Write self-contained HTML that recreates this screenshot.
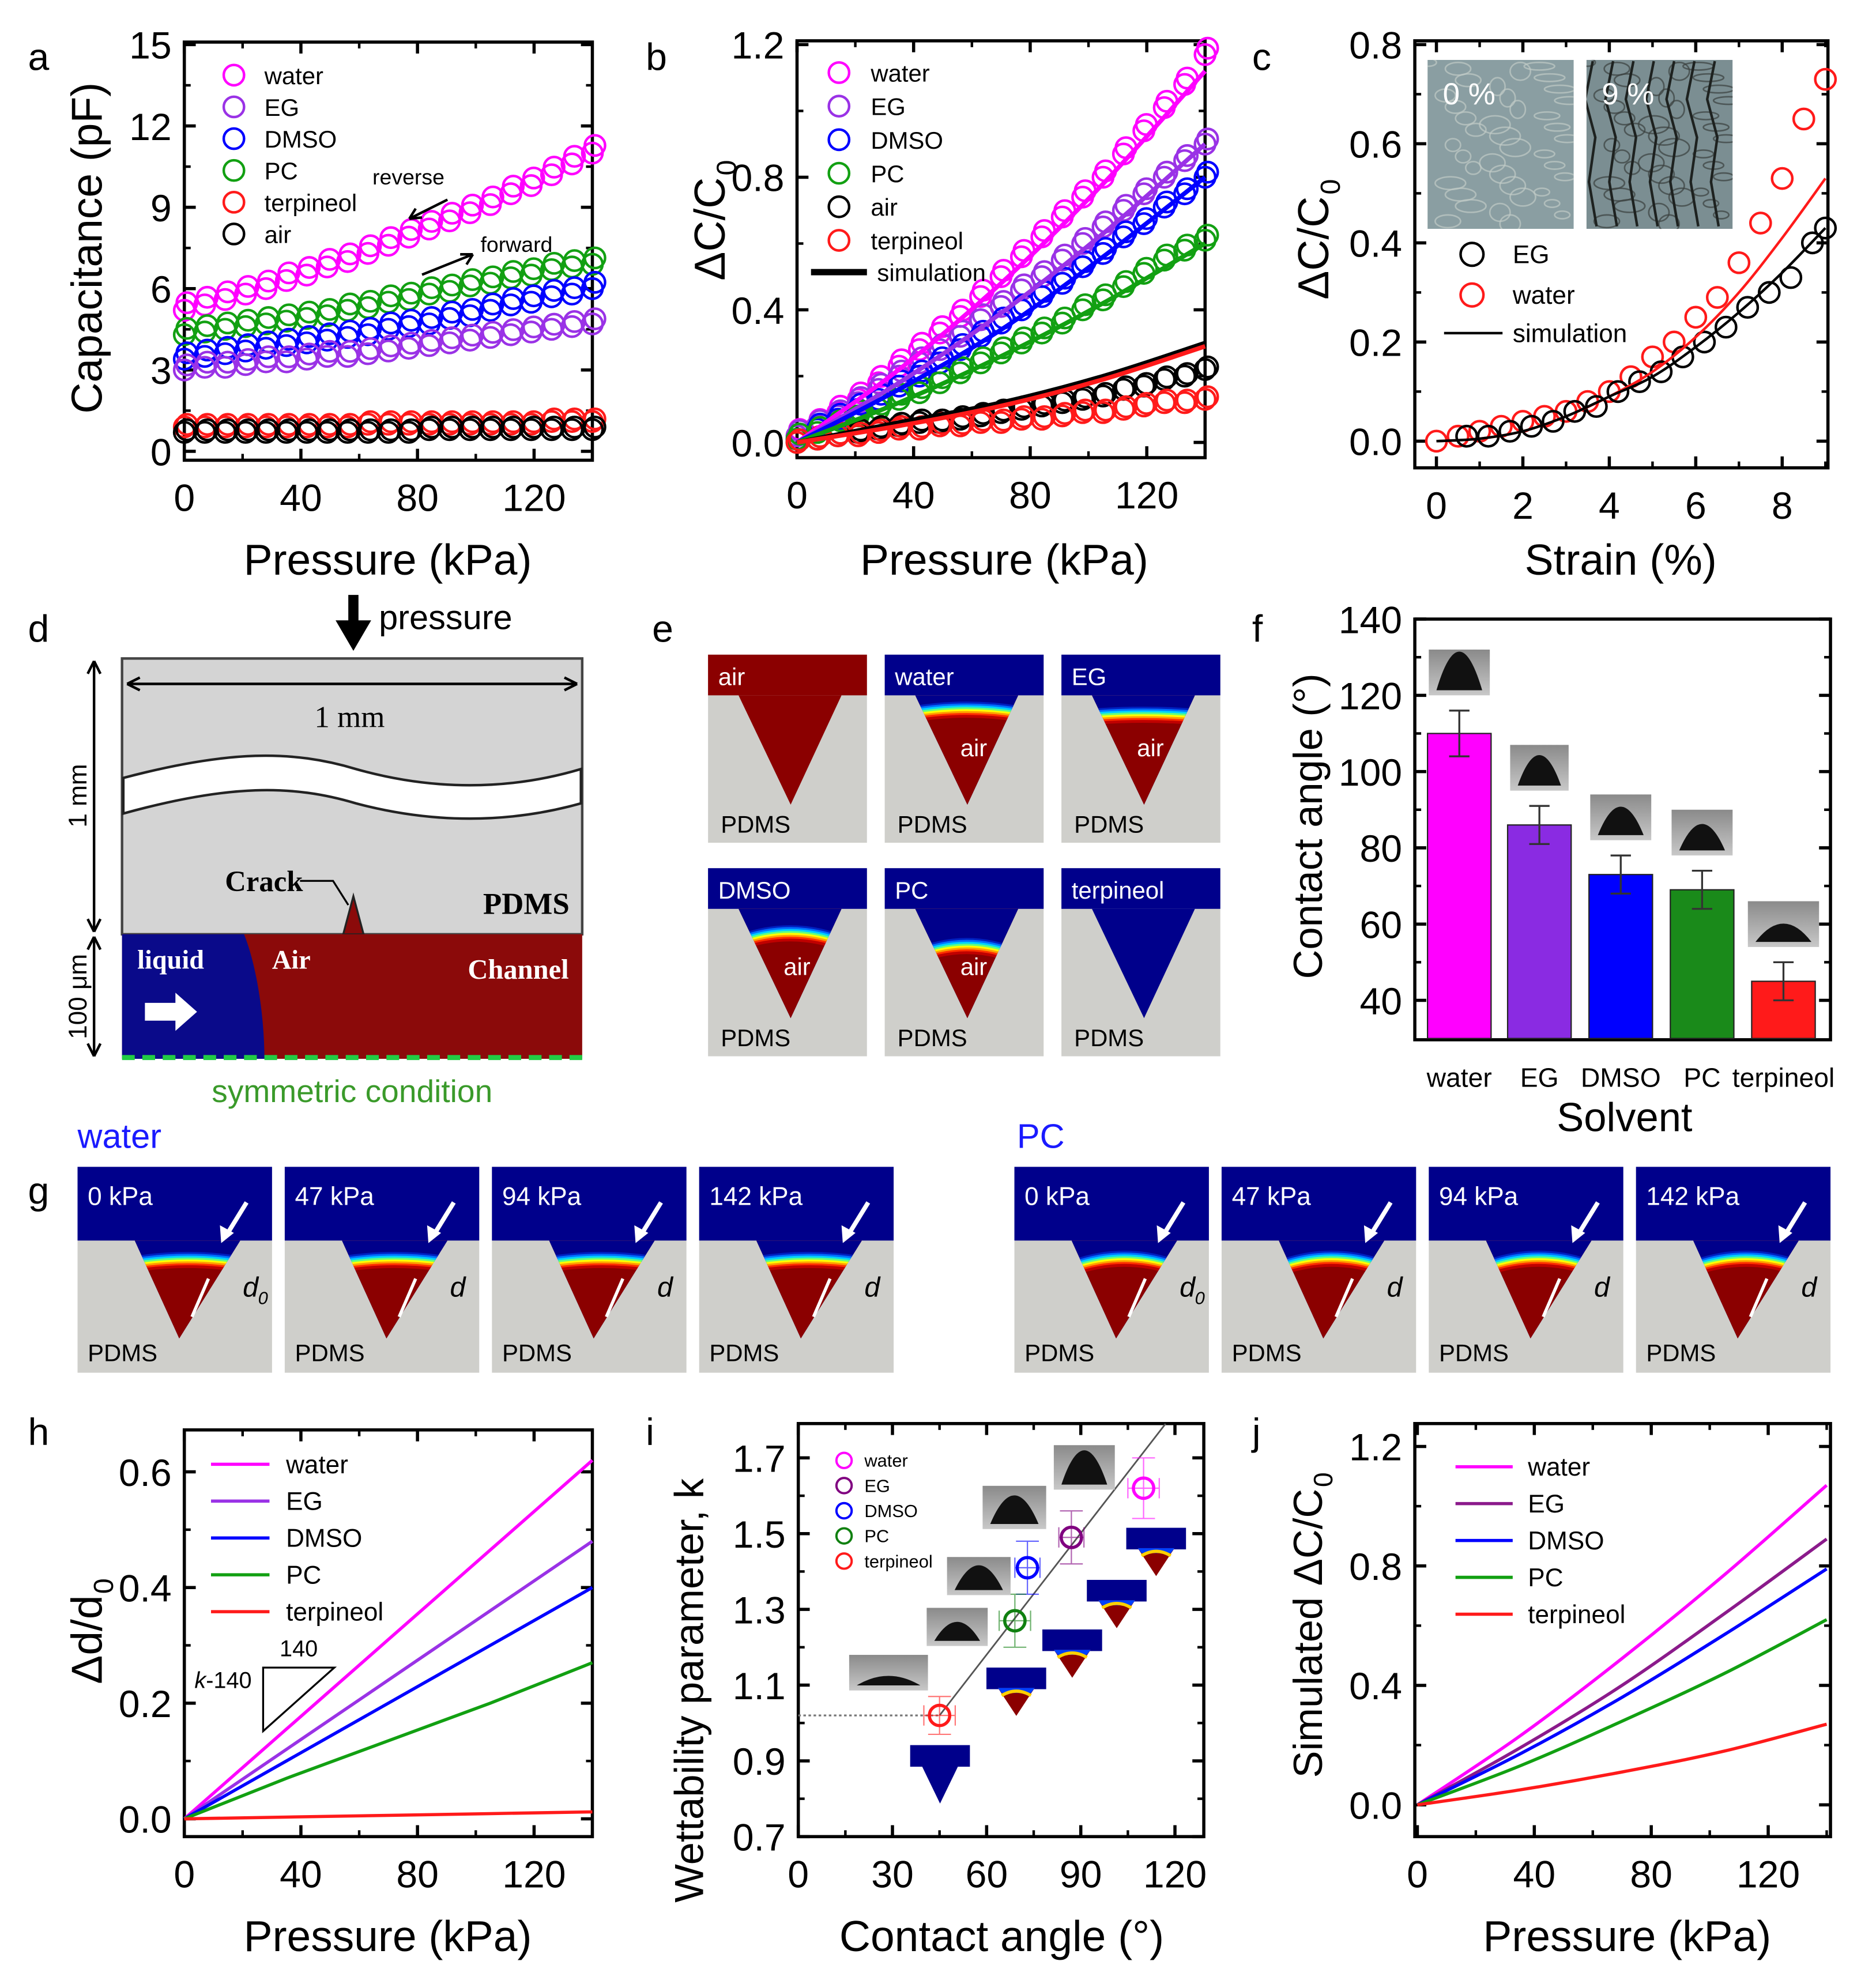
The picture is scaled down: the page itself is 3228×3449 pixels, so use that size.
<!DOCTYPE html>
<html><head><meta charset="utf-8">
<style>
html,body{margin:0;padding:0;background:#fff;}
svg{display:block;font-family:"Liberation Sans",Arial,sans-serif;}
</style></head>
<body>
<svg id="fig" xmlns="http://www.w3.org/2000/svg" width="3228" height="3449" viewBox="0 0 1464 1564">
<defs>
<linearGradient id="dropbg" x1="0" y1="0" x2="0" y2="1"><stop offset="0" stop-color="#8a8a8a"/><stop offset="1" stop-color="#c8c8c8"/></linearGradient>
<clipPath id="mc0"><rect x="1123" y="47" width="115" height="133"/></clipPath>
<clipPath id="mc1"><rect x="1248" y="47" width="115" height="133"/></clipPath>
</defs>
</svg>
<script>
// ---------------- DATA ----------------
const P = [0,7,14,21,28,35,42,49,56,63,70,77,84,91,98,105,112,119,126,133,140];
const aWater = [5.2,5.4,5.6,5.8,6.0,6.3,6.5,6.8,7.0,7.3,7.6,7.9,8.2,8.5,8.8,9.1,9.5,9.8,10.2,10.6,11.0];
const aPC    = [4.3,4.4,4.5,4.6,4.7,4.8,4.9,5.0,5.2,5.3,5.5,5.6,5.8,5.9,6.1,6.2,6.4,6.5,6.7,6.8,6.9];
const aDMSO  = [3.4,3.5,3.6,3.7,3.8,3.9,4.0,4.1,4.2,4.3,4.5,4.6,4.7,4.9,5.0,5.2,5.4,5.5,5.7,5.8,6.0];
const aEG    = [3.0,3.1,3.1,3.2,3.3,3.3,3.4,3.5,3.5,3.6,3.7,3.8,3.9,4.0,4.1,4.2,4.3,4.4,4.5,4.6,4.7];
const aTerp  = [0.9,0.9,0.9,0.9,0.9,0.9,0.9,0.9,0.9,1.0,1.0,1.0,1.0,1.0,1.0,1.0,1.0,1.0,1.1,1.1,1.1];
const aAir   = [0.7,0.7,0.7,0.7,0.7,0.7,0.7,0.7,0.7,0.7,0.7,0.7,0.8,0.8,0.8,0.8,0.8,0.8,0.8,0.8,0.8];
const aTicksX = [0,40,80,120];
const aTicksY = [0,3,6,9,12,15];
const bWater = [0.02,0.05,0.09,0.13,0.18,0.23,0.28,0.33,0.38,0.44,0.50,0.56,0.62,0.68,0.74,0.80,0.87,0.94,1.01,1.08,1.17];
const bEG    = [0.02,0.05,0.08,0.12,0.16,0.20,0.24,0.28,0.32,0.37,0.41,0.46,0.50,0.55,0.60,0.65,0.70,0.75,0.80,0.85,0.90];
const bDMSO  = [0.01,0.04,0.07,0.10,0.13,0.17,0.20,0.24,0.28,0.32,0.36,0.40,0.44,0.48,0.53,0.57,0.62,0.66,0.71,0.75,0.80];
const bPC    = [0.01,0.03,0.05,0.08,0.10,0.13,0.15,0.18,0.21,0.24,0.27,0.30,0.33,0.36,0.40,0.43,0.47,0.51,0.55,0.58,0.61];
const bAir   = [0.00,0.01,0.02,0.03,0.04,0.05,0.06,0.06,0.07,0.08,0.09,0.10,0.11,0.12,0.13,0.14,0.16,0.17,0.19,0.20,0.22];
const bTerp  = [0.00,0.01,0.02,0.02,0.03,0.04,0.04,0.05,0.05,0.06,0.06,0.07,0.07,0.08,0.09,0.09,0.10,0.11,0.12,0.12,0.13];
const SP = [0,35,70,105,140];
const bSimWater = [0,0.22,0.48,0.78,1.12];
const bSimEG    = [0,0.18,0.39,0.63,0.90];
const bSimDMSO  = [0,0.16,0.34,0.56,0.80];
const bSimPC    = [0,0.12,0.26,0.42,0.60];
const bSimAir   = [0,0.06,0.12,0.20,0.30];
const bSimTerp  = [0,0.05,0.11,0.19,0.29];
const bTicksY = [0,0.4,0.8,1.2];
const cStrainW = [0,0.5,1,1.5,2,2.5,3,3.5,4,4.5,5,5.5,6,6.5,7,7.5,8,8.5,9];
const cWater   = [0.0,0.01,0.02,0.03,0.04,0.05,0.06,0.08,0.10,0.13,0.17,0.20,0.25,0.29,0.36,0.44,0.53,0.65,0.73];
const cStrainE = [0.7,1.2,1.7,2.2,2.7,3.2,3.7,4.2,4.7,5.2,5.7,6.2,6.7,7.2,7.7,8.2,8.7,9];
const cEG      = [0.01,0.01,0.02,0.03,0.04,0.06,0.07,0.10,0.12,0.14,0.17,0.20,0.23,0.27,0.30,0.33,0.40,0.43];
const cSimX    = [0,1,2,3,4,5,6,7,8,9];
const cSimW    = [0,0.005,0.02,0.05,0.09,0.14,0.21,0.30,0.41,0.53];
const cSimE    = [0,0.005,0.02,0.05,0.09,0.13,0.19,0.26,0.34,0.43];
const cTicksX = [0,2,4,6,8];
const cTicksY = [0,0.2,0.4,0.6,0.8];
const fCats = ["water","EG","DMSO","PC","terpineol"];
const fVals = [110,86,73,69,45];
const fErr  = [6,5,5,5,5];
const fTicksY = [40,60,80,100,120,140];
const hWater=[0,0.155,0.31,0.465,0.62];
const hEG=[0,0.12,0.24,0.36,0.48];
const hDMSO=[0,0.10,0.20,0.30,0.40];
const hPC=[0,0.07,0.135,0.20,0.27];
const hTerp=[0,0.003,0.006,0.009,0.012];
const hTicksY=[0,0.2,0.4,0.6];
const iAngles=[110,87,73,69,45];
const iK=[1.62,1.49,1.41,1.27,1.02];
const iAngErr=[5,4,4,5,5];
const iKErr=[0.08,0.07,0.07,0.07,0.05];
const iTicksX=[0,30,60,90,120];
const iTicksY=[0.7,0.9,1.1,1.3,1.5,1.7];
const jWater=[0,0.23,0.49,0.77,1.07];
const jEG=[0,0.19,0.40,0.64,0.89];
const jDMSO=[0,0.17,0.36,0.57,0.79];
const jPC=[0,0.13,0.28,0.44,0.62];
const jTerp=[0,0.05,0.11,0.18,0.27];
const jTicksY=[0,0.4,0.8,1.2];

// ---------------- HELPERS ----------------
const NS="http://www.w3.org/2000/svg";
const svg=document.getElementById('fig');
function E(tag,attrs,name,parent){
  const el=document.createElementNS(NS,tag);
  for(const k in attrs) el.setAttribute(k,attrs[k]);
  
  
  (parent||svg).appendChild(el);
  return el;
}
function T(x,y,s,size,name,o){
  o=o||{};
  const a={x:x,y:y,'font-size':size,fill:o.fill||'#000'};
  if(o.anchor)a['text-anchor']=o.anchor;
  if(o.weight)a['font-weight']=o.weight;
  if(o.style)a['font-style']=o.style;
  if(o.family)a['font-family']=o.family;
  if(o.rot!==undefined)a.transform='rotate('+o.rot+' '+x+' '+y+')';
  const el=E('text',a,name,o.parent);
  el.textContent=s;
  return el;
}
function lin(d0,d1,r0,r1){return v=>r0+(v-d0)*(r1-r0)/(d1-d0);}
function frame(x0,y0,x1,y1,name,xt,yt,sx,sy,xl,yl,minorX,minorY){
  const g=E('g',{},name);
  E('rect',{x:x0,y:y0,width:x1-x0,height:y1-y0,fill:'none',stroke:'#000','stroke-width':2.5},name+'-frame',g);
  xt.forEach((v,i)=>{const x=sx(v);
    E('line',{x1:x,x2:x,y1:y1,y2:y1-9,stroke:'#000','stroke-width':2.5},name+'-xtick',g);
    E('line',{x1:x,x2:x,y1:y0,y2:y0+9,stroke:'#000','stroke-width':2.5},name+'-xtick-top',g);
    if(xl)T(x,y1+40,xl[i],30,name+'-xtick-label',{anchor:'middle',parent:g});
  });
  (minorX||[]).forEach(v=>{const x=sx(v);
    E('line',{x1:x,x2:x,y1:y1,y2:y1-5,stroke:'#000','stroke-width':2},name+'-xminor',g);
    E('line',{x1:x,x2:x,y1:y0,y2:y0+5,stroke:'#000','stroke-width':2},name+'-xminor-top',g);});
  yt.forEach((v,i)=>{const y=sy(v);
    E('line',{x1:x0,x2:x0+9,y1:y,y2:y,stroke:'#000','stroke-width':2.5},name+'-ytick',g);
    E('line',{x1:x1,x2:x1-9,y1:y,y2:y,stroke:'#000','stroke-width':2.5},name+'-ytick-right',g);
    if(yl)T(x0-10,y+11,yl[i],30,name+'-ytick-label',{anchor:'end',parent:g});
  });
  (minorY||[]).forEach(v=>{const y=sy(v);
    E('line',{x1:x0,x2:x0+5,y1:y,y2:y,stroke:'#000','stroke-width':2},name+'-yminor',g);
    E('line',{x1:x1,x2:x1-5,y1:y,y2:y,stroke:'#000','stroke-width':2},name+'-yminor-right',g);});
  return g;
}
function circles(xs,ys,sx,sy,color,r,name,dbl){
  xs.forEach((v,i)=>{
    E('circle',{cx:sx(v),cy:sy(ys[i]),r:r,fill:'none',stroke:color,'stroke-width':2},name);
    if(dbl) E('circle',{cx:sx(v)+2,cy:sy(ys[i])-dbl,r:r,fill:'none',stroke:color,'stroke-width':2},name+'-reverse');
  });
}
function line(xs,ys,sx,sy,color,w,name,smooth){
  let d='';
  const pts=xs.map((v,i)=>[sx(v),sy(ys[i])]);
  if(smooth){
    d='M'+pts[0][0]+','+pts[0][1];
    for(let i=0;i<pts.length-1;i++){
      const p0=pts[Math.max(0,i-1)],p1=pts[i],p2=pts[i+1],p3=pts[Math.min(pts.length-1,i+2)];
      const c1=[p1[0]+(p2[0]-p0[0])/6,p1[1]+(p2[1]-p0[1])/6];
      const c2=[p2[0]-(p3[0]-p1[0])/6,p2[1]-(p3[1]-p1[1])/6];
      d+=' C'+c1+' '+c2+' '+p2;
    }
  } else d='M'+pts.map(p=>p.join(',')).join(' L');
  return E('path',{d:d,fill:'none',stroke:color,'stroke-width':w},name);
}
function fmt(v,d){return v.toFixed(d);}
const C={water:'#ff00ff',EG:'#9a32e6',DMSO:'#0000ff',PC:'#12a012',terp:'#ff1a1a',air:'#000'};

[['a',22,55],['b',508,55],['c',985,55],['d',22,505],['e',513,505],['f',985,505],['g',22,947],['h',22,1137],['i',508,1137],['j',985,1137]]
.forEach(p=>T(p[1],p[2],p[0],30,'panel-label-'+p[0]));

// ---------------- PANEL A ----------------
{
 const sx=lin(0,140,145,466), sy=lin(0,15,355,35);
 frame(145,33,466,362,'panel-a-axes',aTicksX,aTicksY,sx,sy,aTicksX.map(String),aTicksY.map(String),[20,60,100,140],[1.5,4.5,7.5,10.5,13.5]);
 T(80,195,'Capacitance (pF)',34,'panel-a-y-title',{anchor:'middle',rot:-90});
 T(305,452,'Pressure (kPa)',34,'panel-a-x-title',{anchor:'middle'});
 circles(P,aWater,sx,sy,C.water,8,'panel-a-water-point',6);
 circles(P,aPC,sx,sy,C.PC,8,'panel-a-pc-point',5);
 circles(P,aDMSO,sx,sy,C.DMSO,8,'panel-a-dmso-point',5);
 circles(P,aEG,sx,sy,C.EG,8,'panel-a-eg-point',4);
 circles(P,aTerp,sx,sy,C.terp,8,'panel-a-terpineol-point',2);
 circles(P,aAir,sx,sy,C.air,8,'panel-a-air-point',2);
 const leg=[['water',C.water],['EG',C.EG],['DMSO',C.DMSO],['PC',C.PC],['terpineol',C.terp],['air',C.air]];
 leg.forEach((l,i)=>{const y=59+i*25;
  E('circle',{cx:184,cy:y,r:8,fill:'none',stroke:l[1],'stroke-width':2},'panel-a-legend-marker');
  T(208,y+7,l[0],19,'panel-a-legend-label');});
 T(293,145,'reverse',17,'panel-a-reverse-label');
 E('path',{d:'M352,157 L322,172 M322,172 l10,-1 M322,172 l5,-8',stroke:'#000','stroke-width':2,fill:'none'},'panel-a-reverse-arrow');
 T(378,198,'forward',17,'panel-a-forward-label');
 E('path',{d:'M332,216 L372,200 M372,200 l-10,0 M372,200 l-5,8',stroke:'#000','stroke-width':2,fill:'none'},'panel-a-forward-arrow');
}
// ---------------- PANEL B ----------------
{
 const sx=lin(0,140,627,948), sy=lin(0,1.2,348,35);
 frame(627,32,948,360,'panel-b-axes',aTicksX,bTicksY,sx,sy,aTicksX.map(String),bTicksY.map(v=>fmt(v,1)),[20,60,100,140],[0.2,0.6,1.0]);
 T(570,180,'ΔC/C',34,'panel-b-y-title',{anchor:'middle',rot:-90});
 T(579,138,'0',22,'panel-b-y-title-sub',{rot:-90});
 T(790,452,'Pressure (kPa)',34,'panel-b-x-title',{anchor:'middle'});
 circles(P,bWater,sx,sy,C.water,8,'panel-b-water-point',5);
 circles(P,bEG,sx,sy,C.EG,8,'panel-b-eg-point',4);
 circles(P,bDMSO,sx,sy,C.DMSO,8,'panel-b-dmso-point',4);
 circles(P,bPC,sx,sy,C.PC,8,'panel-b-pc-point',4);
 circles(P,bAir,sx,sy,C.air,8,'panel-b-air-point',2);
 circles(P,bTerp,sx,sy,C.terp,8,'panel-b-terpineol-point',2);
 line(SP,bSimWater,sx,sy,C.water,3.5,'panel-b-water-sim',true);
 line(SP,bSimEG,sx,sy,C.EG,3.5,'panel-b-eg-sim',true);
 line(SP,bSimDMSO,sx,sy,C.DMSO,3.5,'panel-b-dmso-sim',true);
 line(SP,bSimPC,sx,sy,C.PC,3.5,'panel-b-pc-sim',true);
 line(SP,bSimAir,sx,sy,'#000',3.5,'panel-b-air-sim',true);
 line(SP,bSimTerp,sx,sy,C.terp,3.5,'panel-b-terpineol-sim',true);
 const leg=[['water',C.water],['EG',C.EG],['DMSO',C.DMSO],['PC',C.PC],['air',C.air],['terpineol',C.terp]];
 leg.forEach((l,i)=>{const y=57+i*26.4;
  E('circle',{cx:660,cy:y,r:8,fill:'none',stroke:l[1],'stroke-width':2},'panel-b-legend-marker');
  T(685,y+7,l[0],19,'panel-b-legend-label');});
 E('line',{x1:638,x2:682,y1:214,y2:214,stroke:'#000','stroke-width':5},'panel-b-legend-sim-line');
 T(690,221,'simulation',19,'panel-b-legend-sim-label');
}
// ---------------- PANEL C ----------------
{
 const sx=lin(0,9,1130,1436), sy=lin(0,0.8,347,35);
 frame(1113,32,1438,368,'panel-c-axes',cTicksX,cTicksY,sx,sy,cTicksX.map(String),cTicksY.map(v=>fmt(v,1)),[1,3,5,7,9],[0.1,0.3,0.5,0.7]);
 T(1045,195,'ΔC/C',34,'panel-c-y-title',{anchor:'middle',rot:-90});
 T(1054,153,'0',22,'panel-c-y-title-sub',{rot:-90});
 T(1275,452,'Strain (%)',34,'panel-c-x-title',{anchor:'middle'});
 circles(cStrainW,cWater,sx,sy,C.terp,8,'panel-c-water-point');
 circles(cStrainE,cEG,sx,sy,'#000',8,'panel-c-eg-point');
 line(cSimX,cSimW,sx,sy,C.terp,2,'panel-c-water-sim',true);
 line(cSimX,cSimE,sx,sy,'#000',2,'panel-c-eg-sim',true);
 [[1123,'0 %'],[1248,'9 %']].forEach((p,k)=>{
  const g=E('g',{'clip-path':'url(#mc'+k+')'},'panel-c-micrograph-'+(k?'9':'0'));
  E('rect',{x:p[0],y:47,width:115,height:133,fill:k?'#7b8e92':'#8a9ea2'},'micrograph-bg',g);
  for(let j=0;j<40;j++){
    const cx=p[0]+((j*37)%113)+1, cy=49+((j*53)%129);
    E('ellipse',{cx:cx,cy:cy,rx:6+(j%4)*2,ry:3+(j%3)*2,fill:'none',stroke:k?'#3a403e':'#c0cac6','stroke-width':1.2,opacity:0.7},'micrograph-texture',g);
  }
  if(k){for(let j=0;j<7;j++){E('path',{d:'M'+(p[0]+5+j*16)+',48 l-6,30 l8,30 l-5,35 l6,35',stroke:'#1e2220','stroke-width':2,fill:'none'},'micrograph-crack',g);}}
  T(p[0]+12,82,p[1],24,'micrograph-label',{fill:'#fff',parent:g});
 });
 E('circle',{cx:1158,cy:200,r:9,fill:'none',stroke:'#000','stroke-width':2},'panel-c-legend-eg-marker');
 T(1190,207,'EG',20,'panel-c-legend-eg-label');
 E('circle',{cx:1158,cy:232,r:9,fill:'none',stroke:C.terp,'stroke-width':2},'panel-c-legend-water-marker');
 T(1190,239,'water',20,'panel-c-legend-water-label');
 E('line',{x1:1136,x2:1182,y1:262,y2:262,stroke:'#000','stroke-width':2},'panel-c-legend-sim-line');
 T(1190,269,'simulation',20,'panel-c-legend-sim-label');
}
// ---------------- PANEL D ----------------
{
 const g=E('g',{},'panel-d-schematic');
 E('path',{d:'M278,468 L278,492',stroke:'#000','stroke-width':8},'pressure-arrow-shaft',g);
 E('polygon',{points:'264,488 292,488 278,512'},'pressure-arrow-head',g);
 T(298,495,'pressure',27,'pressure-label',{parent:g});
 E('rect',{x:96,y:518,width:362,height:217,fill:'#d4d4d4',stroke:'#444','stroke-width':2},'pdms-layer',g);
 E('path',{d:'M97,612 C180,590 230,590 280,605 C340,622 400,622 457,605 L457,632 C400,648 340,648 280,632 C230,617 180,617 97,640 Z',fill:'#fff',stroke:'#222','stroke-width':2},'wavy-gap',g);
 E('path',{d:'M100,538 L454,538 M100,538 l10,-5 M100,538 l10,5 M454,538 l-10,-5 M454,538 l-10,5',stroke:'#000','stroke-width':2,fill:'none'},'width-arrow',g);
 T(275,572,'1 mm',24,'width-label',{anchor:'middle',family:'"Liberation Serif",serif',parent:g});
 E('polygon',{points:'270,735 278,705 286,735',fill:'#8b0a0a',stroke:'#222','stroke-width':1.5},'crack',g);
 T(177,701,'Crack',23,'crack-label',{weight:'bold',family:'"Liberation Serif",serif',parent:g});
 E('path',{d:'M236,693 L262,693 L274,712',stroke:'#000','stroke-width':1.5,fill:'none'},'crack-pointer',g);
 T(380,719,'PDMS',24,'pdms-label',{weight:'bold',family:'"Liberation Serif",serif',parent:g});
 E('rect',{x:96,y:735,width:362,height:98,fill:'#8b0a0a'},'channel',g);
 E('path',{d:'M96,735 L192,735 C202,760 208,800 208,833 L96,833 Z',fill:'#0a0a8a'},'liquid',g);
 T(108,762,'liquid',21,'liquid-label',{fill:'#fff',weight:'bold',family:'"Liberation Serif",serif',parent:g});
 T(214,762,'Air',21,'air-label',{fill:'#fff',weight:'bold',family:'"Liberation Serif",serif',parent:g});
 T(368,770,'Channel',22,'channel-label',{fill:'#fff',weight:'bold',family:'"Liberation Serif",serif',parent:g});
 E('polygon',{points:'114,789 138,789 138,781 155,796 138,811 138,803 114,803',fill:'#fff'},'flow-arrow',g);
 E('line',{x1:96,x2:458,y1:832,y2:832,stroke:'#22cc44','stroke-width':4,'stroke-dasharray':'10,6'},'symmetry-line',g);
 T(277,867,'symmetric condition',25,'symmetric-condition-label',{anchor:'middle',fill:'#3a9a2a',parent:g});
 E('path',{d:'M74,520 L74,733 M74,520 l-5,10 M74,520 l5,10 M74,733 l-5,-10 M74,733 l5,-10 M74,737 L74,831 M74,737 l-5,10 M74,737 l5,10 M74,831 l-5,-10 M74,831 l5,-10',stroke:'#000','stroke-width':2,fill:'none'},'height-arrows',g);
 T(68,626,'1 mm',20,'height-label',{anchor:'middle',rot:-90,parent:g});
 T(68,784,'100 μm',20,'channel-height-label',{anchor:'middle',rot:-90,parent:g});
}
// ---------------- CELLS (e, g) ----------------
let clipId=0;
function cell(x,y,w,h,bandH,vl,vr,apx,apy,mode,apex,sag,name){
  const g=E('g',{},name);
  E('rect',{x:x,y:y,width:w,height:h,fill:'#cfcfcb'},name+'-pdms',g);
  const top=mode==='air'?'#8b0000':'#00008b';
  E('rect',{x:x,y:y,width:w,height:bandH,fill:top},name+'-top',g);
  const vpts=vl+','+(y+bandH)+' '+vr+','+(y+bandH)+' '+apx+','+apy;
  const fillV=(mode==='blue')?'#00008b':'#8b0000';
  E('polygon',{points:vpts,fill:fillV},name+'-groove',g);
  if(mode==='men'){
    const id='cp'+(clipId++);
    const cp=E('clipPath',{id:id},name+'-clip',g);
    E('polygon',{points:vpts},name+'-clip-shape',cp);
    const gg=E('g',{'clip-path':'url(#'+id+')'},name+'-meniscus',g);
    const mid=(vl+vr)/2, L=vl-15, R=vr+15;
    E('rect',{x:vl,y:y+bandH-1,width:vr-vl,height:apy-y,fill:'#00008b'},name+'-liquid-fill',gg);
    const arc=(o)=>'M'+L+','+(apex+2*sag+o)+' Q'+mid+','+(apex-2*sag+o)+' '+R+','+(apex+2*sag+o);
    E('path',{d:arc(11)+' L'+R+','+(apy+5)+' L'+L+','+(apy+5)+' Z',fill:'#8b0000'},name+'-air',gg);
    const cols=['#0020c0','#0070ff','#00d0ff','#60ff80','#ffff00','#ffa000','#ff3000','#c00000'];
    cols.forEach((c,i)=>{E('path',{d:arc(1+i*1.5),stroke:c,'stroke-width':2.2,fill:'none'},name+'-rainbow',gg);});
  }
  return g;
}
{
 const xs=[557,696,835], ys=[515,683];
 const info=[['air','air',0,0],['water','men',552,3],['EG','men',556,1.5],['DMSO','men',728,7],['PC','men',738,8],['terpineol','blue',0,0]];
 info.forEach((d,i)=>{
  const x=xs[i%3], y=ys[Math.floor(i/3)];
  const g=cell(x,y,125,148,32,x+24,x+105,x+65,y+118,d[1],d[2],d[3],'panel-e-cell-'+d[0].toLowerCase());
  T(x+8,y+24,d[0],19,'panel-e-cell-title',{fill:'#fff',parent:g});
  T(x+10,y+140,'PDMS',19,'panel-e-pdms-label',{parent:g});
  if(d[1]==='men') T(x+70,y+(i<3?80:84),'air',19,'panel-e-air-label',{fill:'#fff',anchor:'middle',parent:g});
 });
}
{
 T(61,903,'water',27,'panel-g-water-title',{fill:'#1a1aff'});
 T(800,903,'PC',27,'panel-g-pc-title',{fill:'#1a1aff'});
 const xs=[61,224,387,550,798,961,1124,1287];
 const lab=['0 kPa','47 kPa','94 kPa','142 kPa','0 kPa','47 kPa','94 kPa','142 kPa'];
 xs.forEach((x,i)=>{
  const pc=i>=4, y=918;
  const g=cell(x,y,153,162,58,x+45,x+128,x+80,y+135,'men',pc?984:985,pc?7:3,'panel-g-cell-'+i);
  T(x+8,y+30,lab[i],20,'panel-g-pressure-label',{fill:'#fff',parent:g});
  T(x+8,y+153,'PDMS',19,'panel-g-pdms-label',{parent:g});
  T(x+130,y+102,'d',22,'panel-g-distance-label',{style:'italic',parent:g});
  if(i%4===0) T(x+142,y+108,'0',14,'panel-g-distance-sub',{style:'italic',parent:g});
  E('path',{d:'M'+(x+133)+','+(y+28)+' L'+(x+117)+','+(y+54),stroke:'#fff','stroke-width':3.5},'panel-g-arrow',g);
  E('polygon',{points:(x+113)+','+(y+60)+' '+(x+112)+','+(y+46)+' '+(x+123)+','+(y+52),fill:'#fff'},'panel-g-arrow-head',g);
  E('line',{x1:x+90,y1:y+118,x2:x+103,y2:y+88,stroke:'#fff','stroke-width':2.5},'panel-g-d-arrow',g);
 });
}
// ---------------- PANEL F ----------------
{
 const sy=lin(30,140,817,487);
 const bx=[1123,1186,1250,1314,1378], bw=50;
 const cols=[C.water,'#8a2be2',C.DMSO,'#1a8a1a',C.terp];
 frame(1113,487,1440,818,'panel-f-axes',[],fTicksY,null,sy,null,fTicksY.map(String),null,[50,70,90,110,130]);
 fVals.forEach((v,i)=>{
  E('rect',{x:bx[i],y:sy(v),width:bw,height:817-sy(v),fill:cols[i],stroke:'#222','stroke-width':1},'panel-f-bar-'+fCats[i]);
  const cx=bx[i]+bw/2;
  E('path',{d:'M'+cx+','+sy(v+fErr[i])+' L'+cx+','+sy(v-fErr[i])+' M'+(cx-8)+','+sy(v+fErr[i])+' l16,0 M'+(cx-8)+','+sy(v-fErr[i])+' l16,0',stroke:'#333','stroke-width':1.5,fill:'none'},'panel-f-errorbar');
  T(cx,855,fCats[i],21,'panel-f-category-label',{anchor:'middle'});
  const py=sy(v+fErr[i])-48, dw=[44,42,44,44,52][i], dh=[38,30,28,26,18][i];
  E('rect',{x:cx-dw/2-2,y:py,width:dw+4,height:36,fill:'url(#dropbg)'},'panel-f-droplet-photo');
  E('path',{d:'M'+(cx-dw/2+4)+','+(py+32)+' Q'+cx+','+(py+32-dh*1.6)+' '+(cx+dw/2-4)+','+(py+32)+' Z',fill:'#111'},'panel-f-droplet');
 });
 T(1040,650,'Contact angle (°)',32,'panel-f-y-title',{anchor:'middle',rot:-90});
 T(1278,890,'Solvent',32,'panel-f-x-title',{anchor:'middle'});
}
// ---------------- PANEL H ----------------
{
 const sx=lin(0,140,145,466), sy=lin(0,0.6,1431,1158);
 frame(145,1125,466,1445,'panel-h-axes',aTicksX,hTicksY,sx,sy,aTicksX.map(String),hTicksY.map(v=>fmt(v,1)),[20,60,100,140],[0.1,0.3,0.5]);
 T(80,1290,'Δd/d',34,'panel-h-y-title',{anchor:'middle',rot:-90});
 T(89,1254,'0',22,'panel-h-y-title-sub',{rot:-90});
 T(305,1535,'Pressure (kPa)',34,'panel-h-x-title',{anchor:'middle'});
 const s=[[hWater,C.water,'water'],[hEG,C.EG,'EG'],[hDMSO,C.DMSO,'DMSO'],[hPC,C.PC,'PC'],[hTerp,C.terp,'terpineol']];
 s.forEach((q,i)=>{line(SP,q[0],sx,sy,q[1],2.5,'panel-h-line-'+q[2].toLowerCase());
  const y=1152+i*29;
  E('line',{x1:166,x2:212,y1:y,y2:y,stroke:q[1],'stroke-width':2.5},'panel-h-legend-line');
  T(225,y+7,q[2],20,'panel-h-legend-label');});
 E('polygon',{points:'207,1362 263,1312 207,1312',fill:'none',stroke:'#000','stroke-width':1.5},'panel-h-slope-triangle');
 T(235,1303,'140',18,'panel-h-slope-top',{anchor:'middle'});
 T(153,1328,'k',18,'panel-h-slope-k',{style:'italic'});
 T(162,1328,'-140',18,'panel-h-slope-left');
}
// ---------------- PANEL I ----------------
{
 const sx=lin(0,130,628,949), sy=lin(0.7,1.7,1445,1147);
 frame(628,1120,947,1445,'panel-i-axes',iTicksX,iTicksY,sx,sy,iTicksX.map(String),iTicksY.map(v=>fmt(v,1)),[15,45,75,105],[0.8,1.0,1.2,1.4,1.6]);
 T(553,1330,'Wettability parameter, k',32,'panel-i-y-title',{anchor:'middle',rot:-90});
 T(788,1535,'Contact angle (°)',34,'panel-i-x-title',{anchor:'middle'});
 E('line',{x1:sx(0),x2:sx(iAngles[4]),y1:sy(iK[4]),y2:sy(iK[4]),stroke:'#777','stroke-width':1.5,'stroke-dasharray':'2,2'},'panel-i-threshold-line');
 E('line',{x1:sx(iAngles[4]),y1:sy(iK[4]),x2:sx(iAngles[4]+72),y2:sy(iK[4]+0.77),stroke:'#555','stroke-width':1.3},'panel-i-fit-line');
 const cols=[C.water,'#800080',C.DMSO,'#108010',C.terp];
 const names=['water','EG','DMSO','PC','terpineol'];
 iAngles.forEach((a,i)=>{
  const cx=sx(a), cy=sy(iK[i]), ex=sx(a+iAngErr[i])-cx, ey=cy-sy(iK[i]+iKErr[i]);
  E('path',{d:'M'+(cx-ex)+','+cy+' L'+(cx+ex)+','+cy+' M'+(cx-ex)+','+(cy-8)+' l0,16 M'+(cx+ex)+','+(cy-8)+' l0,16 M'+cx+','+(cy-ey)+' L'+cx+','+(cy+ey)+' M'+(cx-9)+','+(cy-ey)+' l18,0 M'+(cx-9)+','+(cy+ey)+' l18,0',stroke:cols[i],'stroke-width':1,fill:'none',opacity:0.6},'panel-i-errorbar-'+names[i]);
  E('circle',{cx:cx,cy:cy,r:8,fill:'none',stroke:cols[i],'stroke-width':2.5},'panel-i-point-'+names[i]);
  E('circle',{cx:664,cy:1149+i*19.8,r:6,fill:'none',stroke:cols[i],'stroke-width':1.8},'panel-i-legend-marker');
  T(680,1154+i*19.8,names[i],14,'panel-i-legend-label');
 });
 [[668,1302,62,28,10],[729,1265,48,30,20],[745,1225,50,30,26],[773,1169,50,34,30],[829,1137,48,35,36]].forEach((d,k)=>{
  E('rect',{x:d[0],y:d[1],width:d[2],height:d[3],fill:'url(#dropbg)'},'panel-i-droplet-photo');
  E('path',{d:'M'+(d[0]+6)+','+(d[1]+d[3]-4)+' Q'+(d[0]+d[2]/2)+','+(d[1]+d[3]-4-d[4]*1.5)+' '+(d[0]+d[2]-6)+','+(d[1]+d[3]-4)+' Z',fill:'#111'},'panel-i-droplet');
 });
 [[716,1373,'blue'],[776,1312,'men'],[820,1282,'men'],[855,1243,'men'],[886,1202,'men']].forEach((d,k)=>{
  const g=E('g',{},'panel-i-groove-icon');
  E('rect',{x:d[0],y:d[1],width:47,height:17,fill:'#00008b'},'icon-top',g);
  const tip=k===0?46:38;
  E('polygon',{points:(d[0]+9)+','+(d[1]+16)+' '+(d[0]+38)+','+(d[1]+16)+' '+(d[0]+23.5)+','+(d[1]+tip),fill:k===0?'#00008b':'#8b0000'},'icon-groove',g);
  if(k>0){E('polygon',{points:(d[0]+9)+','+(d[1]+16)+' '+(d[0]+38)+','+(d[1]+16)+' '+(d[0]+35)+','+(d[1]+20)+' '+(d[0]+12)+','+(d[1]+20),fill:'#0040ff'},'icon-liquid',g);
   E('path',{d:'M'+(d[0]+12)+','+(d[1]+22)+' Q'+(d[0]+23.5)+','+(d[1]+15)+' '+(d[0]+35)+','+(d[1]+22),stroke:'#ffd000','stroke-width':2.5,fill:'none'},'icon-meniscus',g);}
 });
}
// ---------------- PANEL J ----------------
{
 const sx=lin(0,140,1115,1437), sy=lin(0,1.2,1420,1138);
 frame(1113,1120,1440,1445,'panel-j-axes',aTicksX,jTicksY,sx,sy,aTicksX.map(String),jTicksY.map(v=>fmt(v,1)),[20,60,100,140],[0.2,0.6,1.0]);
 T(1040,1285,'Simulated ΔC/C',32,'panel-j-y-title',{anchor:'middle',rot:-90});
 T(1048,1170,'0',21,'panel-j-y-title-sub',{rot:-90});
 T(1280,1535,'Pressure (kPa)',34,'panel-j-x-title',{anchor:'middle'});
 const s=[[jWater,C.water,'water'],[jEG,'#8b1a8b','EG'],[jDMSO,C.DMSO,'DMSO'],[jPC,C.PC,'PC'],[jTerp,C.terp,'terpineol']];
 s.forEach((q,i)=>{line(SP,q[0],sx,sy,q[1],2.5,'panel-j-line-'+q[2].toLowerCase(),true);
  const y=1154+i*29;
  E('line',{x1:1145,x2:1190,y1:y,y2:y,stroke:q[1],'stroke-width':2.5},'panel-j-legend-line');
  T(1202,y+7,q[2],20,'panel-j-legend-label');});
}
</script>
</body></html>
